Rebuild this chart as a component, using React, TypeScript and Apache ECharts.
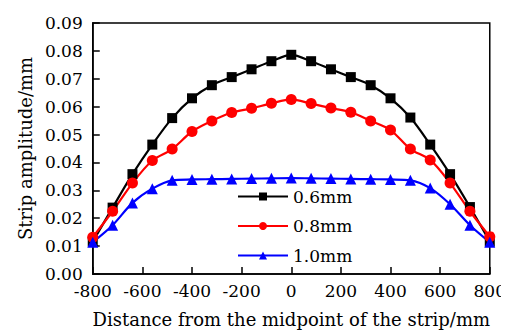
import React, { useEffect, useRef } from "react";
import * as echarts from "echarts";

const positions = [-800, -720, -640, -560, -480, -400, -320, -240, -160, -80, 0, 80, 160, 240, 320, 400, 480, 560, 640, 720, 800];
const amp06 = [0.0116, 0.0238, 0.0358, 0.0464, 0.0559, 0.063, 0.0677, 0.0706, 0.0734, 0.0763, 0.0786, 0.0763, 0.0734, 0.0706, 0.0677, 0.063, 0.0561, 0.0464, 0.0358, 0.024, 0.0116];
const amp08 = [0.0132, 0.0225, 0.0326, 0.0407, 0.0448, 0.0511, 0.0549, 0.0579, 0.0594, 0.0612, 0.0626, 0.0611, 0.0595, 0.058, 0.0549, 0.0516, 0.0448, 0.0409, 0.0326, 0.0225, 0.0134];
const amp10 = [0.0114, 0.0175, 0.0255, 0.0306, 0.0336, 0.0339, 0.034, 0.0341, 0.0342, 0.0343, 0.0344, 0.0343, 0.0342, 0.0341, 0.034, 0.0339, 0.0336, 0.0308, 0.025, 0.0175, 0.0114];
const seriesNames = ["0.6mm", "0.8mm", "1.0mm"];
const xTitle = "Distance from the midpoint of the strip/mm";
const yTitle = "Strip amplitude/mm";

const FONT = "'DejaVu Serif', serif";

export default function App() {
  const ref = useRef<HTMLDivElement>(null);
  useEffect(() => {
    if (!ref.current) return;
    const chart = echarts.init(ref.current, undefined, { renderer: "svg" });
    const mk = (name: string, data: number[], color: string, symbol: string, size: number) => ({
      name,
      type: "line",
      data: positions.map((p, i) => [p, data[i]]),
      smooth: 0.3,
      symbol,
      symbolSize: size,
      lineStyle: { color, width: 2.2 },
      itemStyle: { color },
    });
    chart.setOption({
      animation: false,
      textStyle: { fontFamily: FONT },
      grid: { left: 83, right: 18, top: 15, bottom: 57, show: true, borderColor: "#000", borderWidth: 1.5 },
      legend: {
        orient: "vertical",
        left: 224,
        top: 175,
        itemWidth: 50,
        itemHeight: 10,
        itemGap: 12.5,
        textStyle: { fontFamily: FONT, fontSize: 17, color: "#000" },
        data: seriesNames,
      },
      xAxis: {
        type: "value",
        min: -800,
        max: 800,
        interval: 200,
        name: xTitle,
        nameLocation: "middle",
        nameGap: 36,
        nameTextStyle: { fontFamily: FONT, fontSize: 18, color: "#000" },
        axisLine: { onZero: false, lineStyle: { color: "#000", width: 1.5 } },
        axisTick: { inside: true, length: 7, lineStyle: { color: "#000", width: 1.5 } },
        axisLabel: { fontFamily: FONT, fontSize: 17, color: "#000", margin: 8 },
        splitLine: { show: false },
      },
      yAxis: {
        type: "value",
        min: 0,
        max: 0.09,
        interval: 0.01,
        name: yTitle,
        nameLocation: "middle",
        nameGap: 57,
        nameRotate: 90,
        nameTextStyle: { fontFamily: FONT, fontSize: 18, color: "#000" },
        axisLine: { show: true, onZero: false, lineStyle: { color: "#000", width: 1.5 } },
        axisTick: { show: true, inside: true, length: 7, lineStyle: { color: "#000", width: 1.5 } },
        axisLabel: { fontFamily: FONT, fontSize: 17, color: "#000", margin: 10, formatter: (v: number) => v.toFixed(2) },
        splitLine: { show: false },
      },
      series: [
        mk(seriesNames[0], amp06, "#000000", "rect", 10),
        mk(seriesNames[1], amp08, "#ff0000", "circle", 11),
        mk(seriesNames[2], amp10, "#0000ff", "triangle", 11),
      ],
    });
    return () => chart.dispose();
  }, []);
  return <div ref={ref} style={{ width: 501, height: 325 }} />;
}
